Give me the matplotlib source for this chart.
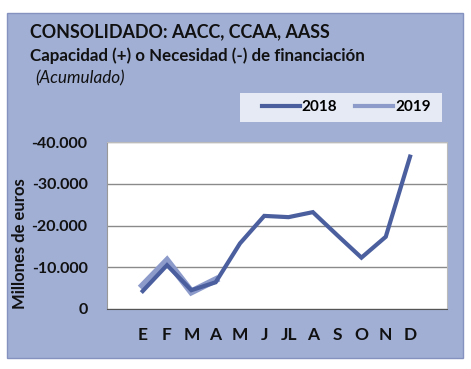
import numpy as np
import matplotlib
matplotlib.use('Agg')
from matplotlib import pyplot as plt
from matplotlib.patches import Rectangle
from matplotlib.ticker import FuncFormatter

# Data (millones de euros, acumulado)
meses = ['E', 'F', 'M', 'A', 'M', 'J', 'JL', 'A', 'S', 'O', 'N', 'D']
v2018 = [-4300, -10500, -4500, -6400, -15700, -22300, -22000, -23200, -17700, -12300, -17300, -36500]
v2019 = [-5600, -11600, -4100, -7000]

bg = '#a1afd5'
c2018 = '#4b5f9f'
c2019 = '#8d9bcb'

W, H = 471, 369
fig = plt.figure(figsize=(W / 100, H / 100), dpi=100, facecolor='white')

# outer panel
fig.patches.append(Rectangle((7 / W, 1 - 358 / H), 456 / W, 345 / H, transform=fig.transFigure,
                             facecolor=bg, edgecolor='#8592c0', lw=1.0, zorder=-2))
# legend panel
fig.patches.append(Rectangle((240 / W, 1 - 122 / H), 202 / W, 29 / H, transform=fig.transFigure,
                             facecolor='#e6eaf4', edgecolor='none', zorder=-1))

fam = ['Lato', 'DejaVu Sans']
fig.text(30 / W, 1 - 32 / H, 'CONSOLIDADO: AACC, CCAA, AASS', family=fam, weight='bold',
         fontsize=12.9, va='center', ha='left', color='#111111')
fig.text(30 / W, 1 - 56 / H, 'Capacidad (+) o Necesidad (-) de financiación', family=fam,
         weight='bold', fontsize=12.2, va='center', ha='left', color='#111111')
fig.text(35 / W, 1 - 78 / H, '(Acumulado)', family=fam, style='italic', fontsize=12.3,
         va='center', ha='left', color='#111111')

ax = fig.add_axes([107 / W, 1 - 309 / H, 340 / W, 167 / H])
ax.set_facecolor('white')
x = np.arange(len(meses))
l19, = ax.plot(x[:len(v2019)], v2019, color=c2019, lw=5, solid_joinstyle='miter', label='2019', zorder=3)
l18, = ax.plot(x, v2018, color=c2018, lw=3, solid_joinstyle='miter', label='2018', zorder=4)

ax.set_ylim(0, -40000)
ax.set_yticks([0, -10000, -20000, -30000, -40000])
ax.yaxis.set_major_formatter(FuncFormatter(lambda v, p: '0' if v == 0 else f'{int(v):,}'.replace(',', '.')))
ax.set_xlim(-1.47, 12.52)
ax.set_xticks(x)
ax.set_xticklabels(meses)
ax.grid(axis='y', color='#8a8a8a', lw=1)
ax.set_axisbelow(True)
for s in ['top', 'right']:
    ax.spines[s].set_color('#bbbbbb')
ax.spines['left'].set_color('#999999')
ax.spines['bottom'].set_color('#555555')
ax.tick_params(axis='y', length=0, pad=14)
ax.tick_params(axis='x', length=0, pad=13)
for t in ax.get_xticklabels():
    t.set_family(fam)
    t.set_weight('bold')
    t.set_fontsize(12.5)
    t.set_color('#111111')
for t in ax.get_yticklabels():
    t.set_family(fam)
    t.set_weight('bold')
    t.set_fontsize(11.5)
    t.set_color('#111111')
ax.set_ylabel('Millones de euros', family=fam, weight='bold', fontsize=12, color='#111111')
ax.yaxis.set_label_coords(-0.232, 0.39)

leg = fig.legend(handles=[l18, l19], loc='center', bbox_to_anchor=(346 / W, 1 - 107 / H), ncol=2,
                 frameon=False, handlelength=2.5, columnspacing=1.2, handletextpad=0.1,
                 prop={'family': fam, 'weight': 'bold', 'size': 11})
for h in leg.legend_handles:
    h.set_linewidth(3)

fig.savefig('out.png', dpi=100, facecolor='white')
